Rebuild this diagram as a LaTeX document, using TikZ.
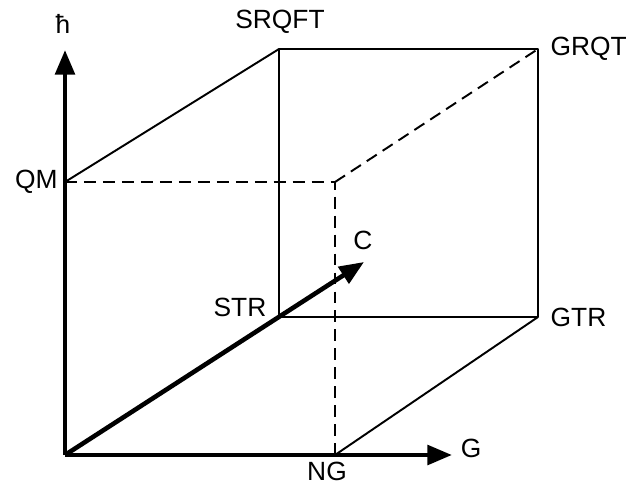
\documentclass[tikz,border=0pt]{standalone}
\usepackage{fontspec}
\setmainfont{Liberation Sans}
\usetikzlibrary{calc,positioning,arrows.meta}

\begin{document}
\begin{tikzpicture}[
    x=0.02cm, y=-0.02cm,
    every node/.style={font=\fontsize{15}{18}\selectfont, inner sep=1pt},
    edge/.style={line width=1.1pt, line join=round},
    hidden/.style={edge, dash pattern=on 6.8pt off 4pt},
    axis/.style={line width=2.6pt, -{Triangle[length=14pt,width=11pt]}}
]
\useasboundingbox (0,0) rectangle (628,486);

% corners of the cube
\coordinate (o)     at (65,455);
\coordinate (qm)    at (65,182);
\coordinate (ng)    at (335,455);
\coordinate (mid)   at (335,182);
\coordinate (str)   at (279,317);
\coordinate (gtr)   at (538,317);
\coordinate (srqft) at (279,49);
\coordinate (grqt)  at (538,49);
% axis tips
\coordinate (htip)  at (65,50);
\coordinate (gtip)  at (452,455);
\coordinate (ctip)  at (364,262);

% labels
\node (lh)     at (63,24)   {ħ};
\node (lsrqft) at (280,22)  {SRQFT};
\node[right=0pt of grqt, xshift=6pt]  (lgrqt) {GRQT};
\node[left=0pt of qm, xshift=-3pt]    (lqm)   {QM};
\node (lstr)   at (240,307) {STR};
\node (lc)     at (363,240) {C};
\node[right=0pt of gtr, xshift=6pt]   (lgtr)  {GTR};
\node (lg)     at (471,448) {G};
\node (lng)    at (327,471) {NG};

% visible edges
\draw[edge] (qm) -- (srqft) -- (grqt) -- (gtr) -- (str) -- (srqft);
\draw[edge] (gtr) -- (ng);
% hidden edges
\draw[hidden] (qm) -- (mid) -- (ng);
\draw[hidden] (mid) -- (grqt);

% axes
\draw[axis] (o) -- (htip);
\draw[axis] (o) -- (gtip);
\draw[axis] (o) -- (ctip);
\end{tikzpicture}
\end{document}
